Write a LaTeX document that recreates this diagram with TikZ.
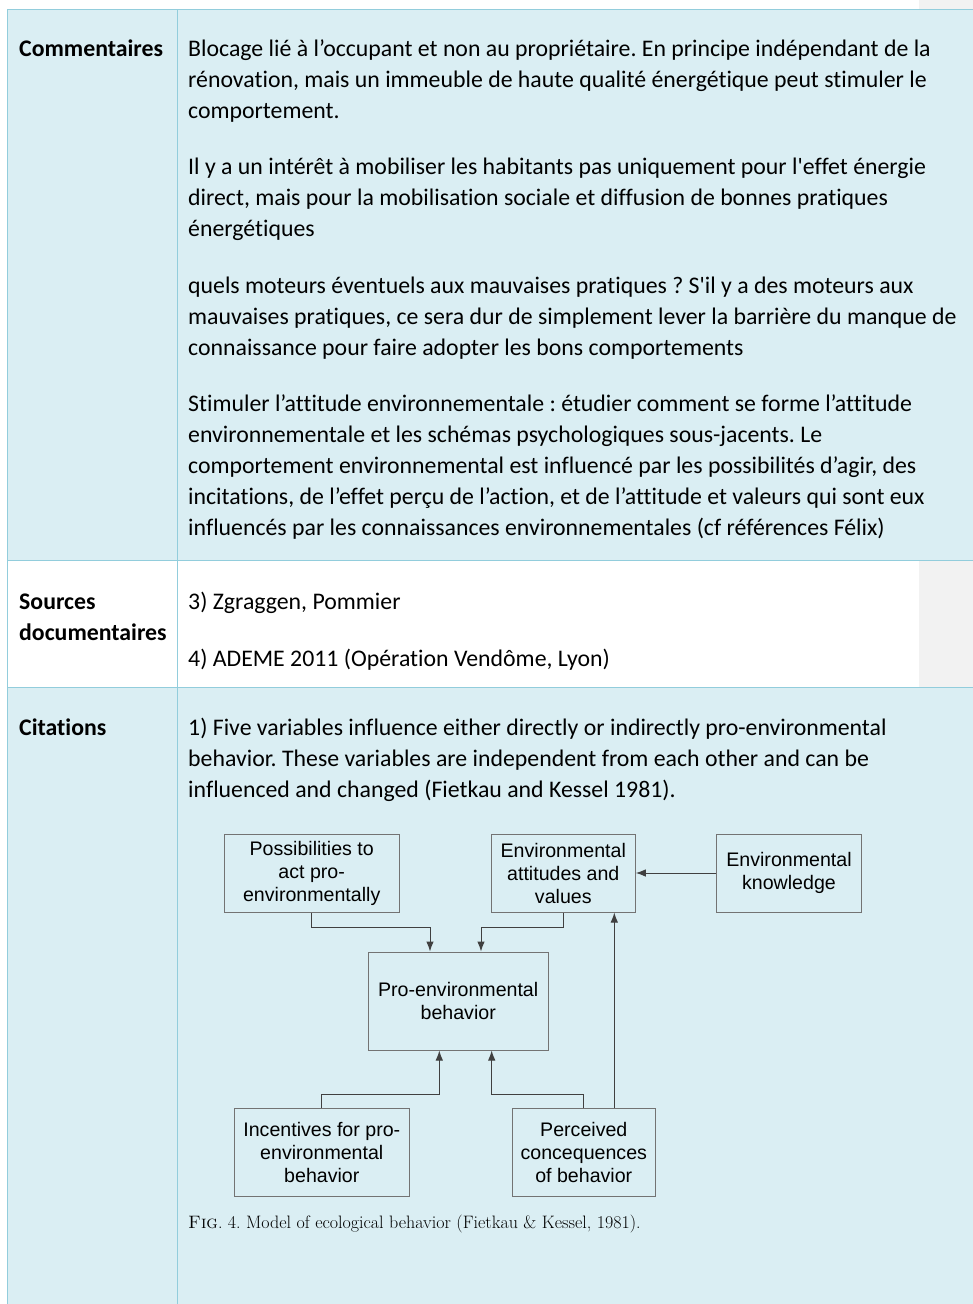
\documentclass[tikz,border=0pt]{standalone}
\usepackage{fontspec}
\usetikzlibrary{arrows.meta}

\newfontfamily\bodyfont[Ligatures={TeXOff,NoCommon}]{Carlito}
\newfontfamily\figfont{Liberation Sans}
\frenchspacing

\definecolor{cellblue}{HTML}{DAEEF3}
\definecolor{rulecol}{HTML}{92CDDC}
\definecolor{margingrey}{HTML}{F2F2F2}

% multi-line text nodes are placed at the baseline of their last line
\tikzset{
  celltext/.style={anchor=base west,inner sep=0pt,align=left,
    font=\bodyfont\fontsize{23.8}{31}\selectfont},
  headtext/.style={celltext,font=\bodyfont\bfseries\fontsize{23.8}{31}\selectfont},
  figbox/.style={draw=black!55,line width=1pt,inner sep=0pt,align=center,
    font=\figfont\fontsize{19.6}{23}\selectfont},
  conn/.style={draw=black!75,line width=1pt,-{Latex[length=10pt,width=7.5pt]}},
}

\begin{document}
\begin{tikzpicture}[x=1pt,y=-1pt]

      \useasboundingbox (0,0) rectangle (973,1304);

      % cells
      \fill[margingrey] (919,0) rectangle (973,9);
      \fill[cellblue] (7,9) rectangle (973,560);
      \fill[margingrey] (919,560) rectangle (973,687);
      \fill[cellblue] (7,687) rectangle (973,1304);

      \begin{scope}[draw=rulecol,line width=1pt]
        \draw (7,1304) -- (7,9) -- (973,9);
        \draw (177,9) -- (177,1304);
        \draw (7,560) -- (973,560);
        \draw (7,687) -- (973,687);
      \end{scope}

      % Commentaires
      \node[headtext] (hcom) at (19,56) {Commentaires};
      \node[celltext] (com1) at (188,118) {Blocage lié à l’occupant et non au propriétaire. En principe indépendant de la\\
        rénovation, mais un immeuble de haute qualité énergétique peut stimuler le\\
        comportement.};
      \node[celltext] (com2) at (188,236) {Il y a un intérêt à mobiliser les habitants pas uniquement pour l'effet énergie\\
        direct, mais pour la mobilisation sociale et diffusion de bonnes pratiques\\
        énergétiques};
      \node[celltext] (com3) at (188,355) {quels moteurs éventuels aux mauvaises pratiques ? S'il y a des moteurs aux\\
        mauvaises pratiques, ce sera dur de simplement lever la barrière du manque de\\
        connaissance pour faire adopter les bons comportements};
      \node[celltext] (com4) at (188,535) {Stimuler l’attitude environnementale : étudier comment se forme l’attitude\\
        environnementale et les schémas psychologiques sous-jacents. Le\\
        comportement environnemental est influencé par les possibilités d’agir, des\\
        incitations, de l’effet perçu de l’action, et de l’attitude et valeurs qui sont eux\\
        influencés par les connaissances environnementales (cf références Félix)};

      % Sources
      \node[headtext] (hsrc) at (19,640) {Sources\\documentaires};
      \node[celltext] (src3) at (188,609) {3) Zgraggen, Pommier};
      \node[celltext] (src4) at (188,666) {4) ADEME 2011 (Opération Vendôme, Lyon)};

      % Citations
      \node[headtext] (hcit) at (19,735) {Citations};
      \node[celltext] (cit1) at (188,797) {1) Five variables influence either directly or indirectly pro-environmental\\
        behavior. These variables are independent from each other and can be\\
        influenced and changed (Fietkau and Kessel 1981).};

      \begin{scope}[every node/.style={figbox}]
        \node[minimum width=175pt,minimum height=78pt] (poss) at (311.7,873) {Possibilities to\\act pro-\\environmentally};
        \node[minimum width=144pt,minimum height=78pt] (att)  at (563.3,873) {Environmental\\attitudes and\\values};
        \node[minimum width=145pt,minimum height=78pt] (know) at (789,873)   {Environmental\\knowledge};
        \node[minimum width=180pt,minimum height=98pt] (beh)  at (458.2,1001) {Pro-environmental\\behavior};
        \node[minimum width=175pt,minimum height=88pt] (inc)  at (321.8,1152.7) {Incentives for pro-\\environmental\\behavior};
        \node[minimum width=143pt,minimum height=88pt] (perc) at (583.8,1152.7) {Perceived\\concequences\\of behavior};
      \end{scope}

      \coordinate (possbend) at (430,927);
      \coordinate (attbend)  at (481,927);
      \coordinate (incbend)  at (439.3,1094);
      \coordinate (percbend) at (491.7,1094);

      \begin{scope}[every path/.style={conn}]
        \draw (poss.south) |- (possbend) -- (possbend |- beh.north);
        \draw (att.south) |- (attbend) -- (attbend |- beh.north);
        \draw (inc.north) |- (incbend) -- (incbend |- beh.south);
        \draw (perc.north) |- (percbend) -- (percbend |- beh.south);
        \draw (know.west) -- (att.east);
        \draw ([xshift=30.5pt]perc.north) -- ([xshift=51pt]att.south);
      \end{scope}

      \node[anchor=base west,inner sep=0pt,font=\fontsize{18}{20}\selectfont] (cap) at (188,1228)
        {\textsc{Fig}. 4. Model of ecological behavior (Fietkau \& Kessel, 1981).};

    \end{tikzpicture}
\end{document}
